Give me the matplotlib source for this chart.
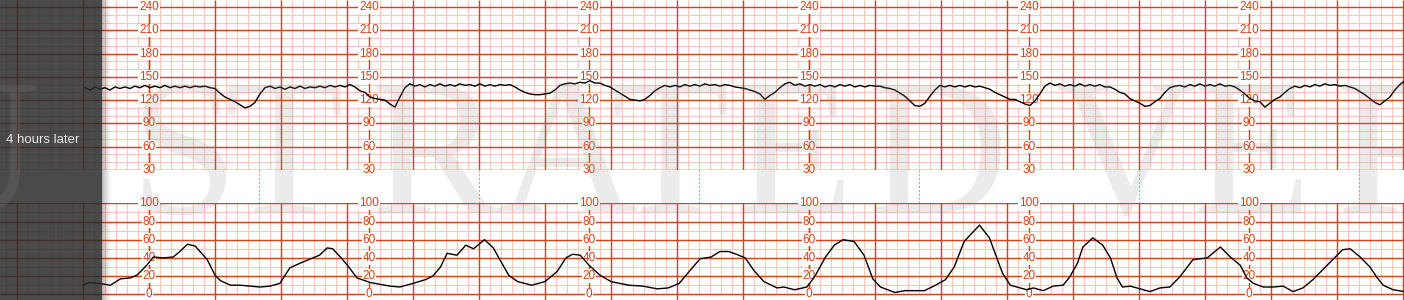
import numpy as np
import matplotlib
matplotlib.use("Agg")
import matplotlib.pyplot as plt
from matplotlib.patches import Rectangle

################################ data read off the strip
# fetal heart rate (bpm), one sample every FHR_DT seconds starting at FHR_T0
FHR_T0 = -58.2
FHR_DT = 4.545
fhr_bpm = [
  136,133,137,134,136,133,137,135,137,135,
  138,136,139,136,138,136,139,136,138,136,
  138,136,138,137,138,136,135,129,124,121,
  118,114,110,112,117,128,136,138,135,137,
  134,137,135,138,135,137,136,138,136,139,
  137,139,137,140,137,132,130,124,122,121,
  120,115,111,124,136,141,138,140,137,140,
  138,141,138,140,138,141,139,140,138,141,
  138,140,138,140,139,140,137,133,130,128,
  127,127,128,129,133,139,141,142,141,143,
  142,145,142,142,139,137,133,129,125,121,
  120,119,121,126,132,136,139,137,139,137,
  140,138,140,138,141,139,140,138,140,139,
  137,136,135,133,131,128,121,126,130,136,
  141,143,139,141,138,140,138,140,137,139,
  137,140,138,140,137,139,137,139,138,138,
  136,135,133,129,125,119,113,112,116,125,
  133,139,137,139,137,139,137,139,137,138,
  136,134,130,127,124,121,121,118,115,113,
  119,128,138,142,139,141,138,140,138,141,
  138,140,138,140,137,137,134,130,128,122,
  119,116,112,113,118,122,130,136,138,139,
  137,140,138,141,138,140,138,141,138,139,
  137,133,128,122,119,118,111,116,121,124,
  130,135,138,136,139,137,140,138,141,139,
  140,138,139,137,135,131,127,122,117,114,
  119,124,133,140,145,
]

# uterine activity (toco), time in seconds and pressure units
toco_t = [
  -60,-54,-45,-35,-26,-17,-11,-2,4,13,22,28,35,42,53,60,65,74,83,92,
  101,110,119,128,137,149,155,162,167,174,181,189,201,210,219,228,240,251,258,265,
  271,280,288,295,305,313,319,327,335,348,360,371,379,385,392,400,410,420,436,449,
  462,472,482,491,501,511,519,527,534,542,550,559,571,577,587,598,605,615,623,631,
  641,650,658,665,678,687,695,705,715,724,732,741,755,764,772,776,783,789,798,804,
  813,822,831,837,844,849,858,867,874,880,885,892,901,910,919,928,937,944,949,962,
  967,974,983,992,998,1004,1013,1022,1031,1040,1049,1058,1067,1076,1085,1092,1101,1110,1116,1122,
  1131,1141,
]
toco_val = [
  10,13,12,10,17,18,21,32,41,40,41,47,55,53,38,21,15,10,10,9,
  8,9,12,29,34,40,43,51,50,41,31,18,13,11,9,8,12,16,20,30,
  45,43,54,50,60,51,38,21,14,10,14,25,40,44,43,32,21,14,10,9,
  6,7,12,25,39,41,47,47,44,40,26,14,7,8,5,8,19,41,54,60,
  58,43,17,8,2,4,4,4,10,16,30,58,76,62,36,23,10,8,5,7,
  4,9,10,19,34,52,62,54,40,18,8,9,6,3,7,8,19,30,38,40,
  45,52,41,32,18,12,8,8,9,3,7,16,27,38,49,50,41,30,19,10,
  5,3,
]

fhr_labels = [30, 60, 90, 120, 150, 180, 210, 240]
toco_labels = [0, 20, 40, 60, 80, 100]
label_cols = [0, 200, 400, 600, 800, 1000]   # seconds
side_note = "4 hours later"
watermark = [("U", 40, "right"), ("S", 130, "left"), ("T", 224, "left"),
             ("R", 370, "left"), ("A", 497, "left"), ("T", 611, "left"),
             ("E", 734, "left"), ("D", 867, "left"), ("V", 1056, "left"),
             ("E", 1192, "left"), ("R", 1336, "left")]

################################ styles
RED = '#d4431a'
PINK = '#f8c7b7'
LABEL = '#dc3e10'
W, H = 1404, 300
X0, X1 = -149 / 1.1, 1255 / 1.1
font_sans = ['Liberation Sans', 'DejaVu Sans']
font_serif = ['Liberation Serif', 'DejaVu Serif']
minor_x = np.arange(-130, 1150, 10)   # 10 s squares
major_x = np.arange(-120, 1150, 60)   # 1 min lines

fig = plt.figure(figsize=(W / 100, H / 100), dpi=100)
fig.patch.set_facecolor('white')


def paper(ax, ylo, ytop, lo, hi, minor, major, labels, vlo, vhi):
  # ylo/ytop: visible range, lo/hi: printed grid, vlo/vhi: reach of the heavy verticals
  ax.set_xlim(X0, X1)
  ax.set_ylim(ylo, ytop)
  ax.axis('off')
  ax.hlines(np.arange(lo, hi + 1, minor), X0, X1, color=PINK, lw=0.8, zorder=1)
  ax.vlines(minor_x, lo, vhi, color=PINK, lw=0.8, zorder=1)
  ax.hlines(np.arange(lo, hi + 1, major), X0, X1, color=RED, lw=1.0, zorder=2)
  ax.vlines(major_x, vlo, vhi, color=RED, lw=1.0, zorder=2)
  ax.vlines(label_cols, vlo, vhi, color=RED, lw=1.0, zorder=2)
  for c in label_cols:
    for v in labels:
      ax.text(c, v, str(v), ha='center', va='center', fontsize=8.5, color=LABEL,
              family=font_sans, zorder=4,
              bbox=dict(facecolor='white', edgecolor='none', pad=0.5))


# heart rate panel (30 bpm at y=170px, grid runs to the top edge)
ax_fhr = fig.add_axes([0, (H - 170) / H, 1, 170 / H])
paper(ax_fhr, 30, 249.0, 30, 240, 10, 30, fhr_labels, 30, 249.0)
fhr_t = FHR_T0 + FHR_DT * np.arange(len(fhr_bpm))
ax_fhr.plot(fhr_t, fhr_bpm, color='black', lw=1.0, zorder=5)

# gap with dashed markers
ax_gap = fig.add_axes([0, (H - 203.3) / H, 1, 33.3 / H])
ax_gap.set_xlim(X0, X1)
ax_gap.set_ylim(0, 1)
ax_gap.axis('off')
ax_gap.vlines(np.array(label_cols) + 100, 0, 1, color='#e58a70', lw=0.7,
              linestyles=(0, (2, 2)))

# toco panel (100 at y=203px, heavy verticals poke past 0 to the bottom edge)
ax_toco = fig.add_axes([0, 0, 1, 96.7 / H])
paper(ax_toco, -6.26, 100, 0, 100, 10, 20, toco_labels, -6.26, 100)
ax_toco.plot(toco_t, toco_val, color='black', lw=1.0, zorder=5)

# dark side panel with a soft shadow edge
fig.add_artist(Rectangle((0, 0), 102 / W, 1, transform=fig.transFigure,
                         facecolor='#2a2a2a', alpha=0.85, edgecolor='none', zorder=6))
for i in range(10):
  fig.add_artist(Rectangle(((102 + i) / W, 0), 1 / W, 1, transform=fig.transFigure,
                           facecolor='#2a2a2a', alpha=0.32 * (1 - i / 10) ** 1.5,
                           edgecolor='none', zorder=6))

# watermark letters
for ch, px, ha in watermark:
  fig.text(px / W, (H - 213) / H, ch, ha=ha, va='baseline', fontsize=140,
           family=font_serif, color='#8c8c8c', alpha=0.17, zorder=8)

fig.text(43 / W, (H - 140) / H, side_note, ha='center', va='center', fontsize=9.5,
         family=font_sans, color='#e8e8e8', zorder=9)

fig.savefig('out.png', dpi=100)
